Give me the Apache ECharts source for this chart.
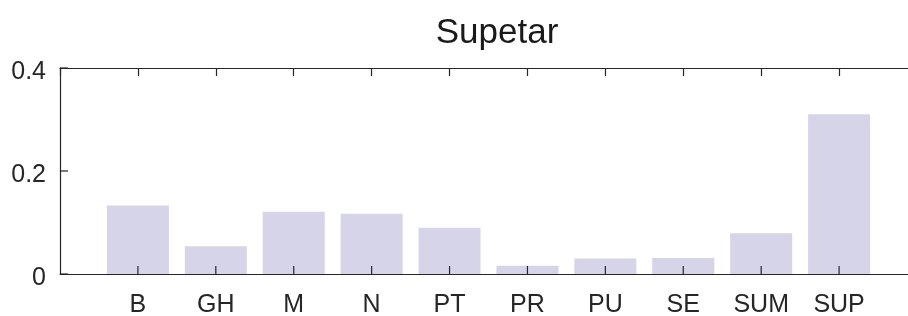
<!DOCTYPE html>
<html>
<head>
<meta charset="utf-8">
<script src="https://cdn.jsdelivr.net/npm/echarts@6/dist/echarts.min.js"></script>
<style>
html, body {margin:0; padding:0; background:#fff}
#chart {width:908px; height:316px}
</style>
</head>
<body>
<div id="chart"></div>
<script>
var categories = ['B', 'GH', 'M', 'N', 'PT', 'PR', 'PU', 'SE', 'SUM', 'SUP']
var values = [0.133, 0.054, 0.121, 0.117, 0.090, 0.016, 0.030, 0.031, 0.079, 0.310]
var yTicks = [0, 0.2, 0.4]

var barData = []
var xTickData = []
for (var i = 0; i < categories.length; i++){
    barData.push([i + 1, values[i]])
    xTickData.push([i + 1, 0])
}

function xLabel(v){
    var idx = Math.round(v) - 1
    if (idx >= 0 && idx < categories.length){ return categories[idx] }
    return ''
}

function yLabel(v){
    for (var t of yTicks){
        if (Math.abs(t - v) < 1e-9){ return String(t) }
    }
    return ''
}

var axisColor = '#262626'
var font = 'Liberation Sans, Arial, sans-serif'
var tickLen = 8

var xRange = {min: 0, max: 11, interval: 1}
var yRange = {min: 0, max: 0.4, interval: 0.2}

var yTickData = []
for (var t of yTicks){
    yTickData.push([xRange.min, t, 1])
    yTickData.push([xRange.max, t, -1])
}

// plain box axis: line + inward ticks, no labels
function frameAxis(pos, extra){
    var ax = {
        type: 'value',
        position: pos,
        z: 5,
        splitLine: {show: false},
        axisLine: {show: true, onZero: false, lineStyle: {color: axisColor, width: 1.2}},
        axisTick: {show: true, inside: true, length: tickLen, lineStyle: {color: axisColor, width: 1.2}},
        axisLabel: {show: false}
    }
    for (var k in extra){ ax[k] = extra[k] }
    return ax
}

// inward ticks on bottom / left / right would not show as axis ticks, draw them as a custom series
function xTickItem(params, api){
    var p = api.coord([api.value(0), api.value(1)])
    return {
        type: 'line',
        shape: {x1: p[0], y1: p[1], x2: p[0], y2: p[1] - tickLen},
        style: {stroke: axisColor, lineWidth: 1.2}
    }
}

function yTickItem(params, api){
    var p = api.coord([api.value(0), api.value(1)])
    var dir = api.value(2)
    return {
        type: 'line',
        shape: {x1: p[0], y1: p[1], x2: p[0] + dir * tickLen, y2: p[1]},
        style: {stroke: axisColor, lineWidth: 1.2}
    }
}

var option = {
    animation: false,
    title: {
        text: 'Supetar',
        left: 492,
        textAlign: 'center',
        top: 11,
        textStyle: {
            fontFamily: font,
            fontSize: 35,
            fontWeight: 'normal',
            color: '#1a1a1a'
        }
    },
    grid: {
        left: 60,
        top: 68,
        width: 857,
        height: 206,
        outerBoundsMode: 'none',
        containLabel: false
    },
    xAxis: [
        frameAxis('bottom', Object.assign({}, xRange, {
            axisTick: {show: false},
            axisLabel: {
                formatter: xLabel,
                margin: 19,
                fontFamily: font,
                fontSize: 25,
                color: axisColor
            }
        })),
        frameAxis('top', xRange)
    ],
    yAxis: [
        frameAxis('left', Object.assign({}, yRange, {
            axisTick: {show: false},
            axisLabel: {
                formatter: yLabel,
                margin: 14,
                verticalAlign: 'top',
                lineHeight: 8,
                fontFamily: font,
                fontSize: 25,
                color: axisColor
            }
        })),
        frameAxis('right', Object.assign({}, yRange, {axisTick: {show: false}}))
    ],
    series: [{
        type: 'bar',
        xAxisIndex: 0,
        yAxisIndex: 0,
        barWidth: 62,
        itemStyle: {color: '#d6d4e8'},
        data: barData
    }, {
        type: 'custom',
        xAxisIndex: 0,
        yAxisIndex: 0,
        z: 10,
        silent: true,
        renderItem: xTickItem,
        encode: {x: 0, y: 1},
        data: xTickData
    }, {
        type: 'custom',
        xAxisIndex: 0,
        yAxisIndex: 0,
        z: 10,
        silent: true,
        renderItem: yTickItem,
        encode: {x: 0, y: 1},
        data: yTickData
    }]
}

var chart = echarts.init(document.getElementById('chart'))
chart.setOption(option)
</script>
</body>
</html>
